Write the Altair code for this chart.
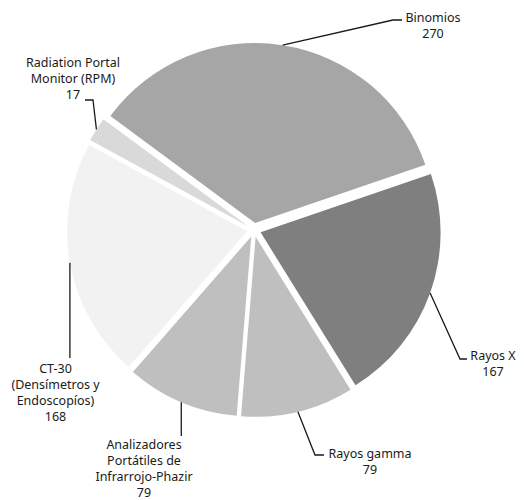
import math
import altair as alt
import pandas as pd

# ---- data ----
categories = ["Binomios", "Rayos X", "Rayos gamma",
              "Analizadores Portátiles de Infrarrojo-Phazir",
              "CT-30 (Densímetros y Endoscopíos)",
              "Radiation Portal Monitor (RPM)"]
values = [270, 167, 79, 79, 168, 17]
label_lines = [["Binomios"], ["Rayos X"], ["Rayos gamma"],
               ["Analizadores", "Portátiles de", "Infrarrojo-Phazir"],
               ["CT-30", "(Densímetros y", "Endoscopíos)"],
               ["Radiation Portal", "Monitor (RPM)"]]
colors = ["#a6a6a6", "#7f7f7f", "#bfbfbf", "#bfbfbf", "#f2f2f2", "#d9d9d9"]

# ---- layout (chart pixel coordinates) ----
W, H = 508, 492
CX, CY = 246, 222
R = 180
EXPLODE = 7
START_DEG = -53.5
START = math.radians(START_DEG)

# label anchors: (text x, first baseline y), leader elbow, leader end
label_pos = [(425, 14), (485, 352), (362, 450), (136, 441), (47.5, 365), (65, 59)]
leader_elbow = [(385, 12), (452, 351), (307, 447), (None, 428), (None, 350), (85, 92)]
leader_end = [(394, 12), (459, 351), (316, 447), (None, 428), (None, 350), (77, 92)]

total = sum(values)
rows, lines, texts = [], [], []
cum = 0
for i, (c, v) in enumerate(zip(categories, values)):
    mid = START + 2 * math.pi * (cum + v / 2) / total
    cum += v
    px = CX + EXPLODE * math.sin(mid)
    py = CY - EXPLODE * math.cos(mid)
    rows.append(dict(cat=c, value=v, color=colors[i], idx=i, px=px, py=py))
    sx = CX + (R + EXPLODE) * math.sin(mid)
    sy = CY - (R + EXPLODE) * math.cos(mid)
    ex, ey = leader_elbow[i]
    fx, fy = leader_end[i]
    ex = sx if ex is None else ex
    fx = sx if fx is None else fx
    for o, (x, y) in enumerate([(sx, sy), (ex, ey), (fx, fy)]):
        lines.append(dict(g=i, o=o, x=x, y=y))
    tx, ty = label_pos[i]
    texts.append(dict(t="\n".join(label_lines[i] + [str(v)]), x=tx, y=ty))

df = pd.DataFrame(rows)
df_lines = pd.DataFrame(lines)
df_text = pd.DataFrame(texts)

pie = alt.Chart(df).mark_arc(outerRadius=R, stroke=None).encode(
    theta=alt.Theta("value:Q", stack=True,
                    scale=alt.Scale(range=[START, START + 2 * math.pi])),
    color=alt.Color("color:N", scale=None),
    order=alt.Order("idx:Q"),
    x=alt.X("px:Q", scale=None),
    y=alt.Y("py:Q", scale=None),
)

leaders = alt.Chart(df_lines).mark_line(color="#1a1a1a", strokeWidth=1.3).encode(
    x=alt.X("x:Q", scale=None),
    y=alt.Y("y:Q", scale=None),
    detail="g:N",
    order="o:Q",
)

labels = alt.Chart(df_text).mark_text(
    font="Noto Sans", fontSize=12.5, color="#1a1a1a", align="center",
    baseline="alphabetic", lineBreak="\n", lineHeight=16,
).encode(
    x=alt.X("x:Q", scale=None),
    y=alt.Y("y:Q", scale=None),
    text="t:N",
)

chart = alt.layer(pie, leaders, labels).properties(
    width=W, height=H, padding=0,
    autosize=alt.AutoSizeParams(type="none"),
).configure_view(stroke=None)

chart.save("out.html", embed_options={"renderer": "svg", "actions": False})
